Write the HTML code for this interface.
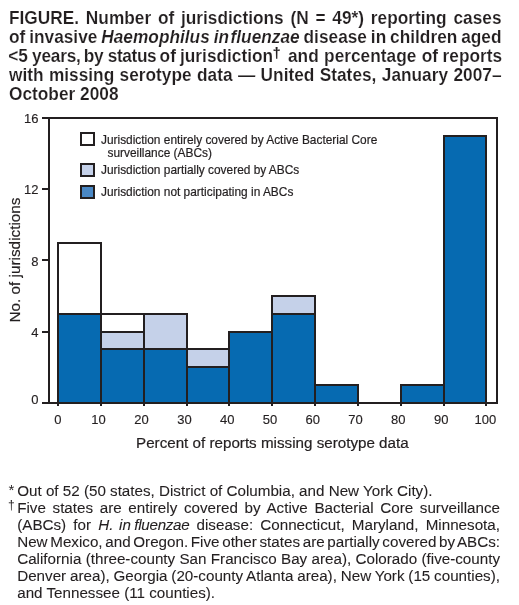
<!DOCTYPE html>
<html><head><meta charset="utf-8">
<style>
html,body{margin:0;padding:0;background:#fff;}
body{width:519px;height:605px;overflow:hidden;position:relative;font-family:"Liberation Sans",sans-serif;color:#231f20;}
.t{position:absolute;left:9px;width:492.5px;font-weight:bold;font-size:17.3px;line-height:17px;transform:scaleY(1.04);transform-origin:0 14.5px;-webkit-text-stroke:0.15px #fff;white-space:nowrap;text-align:justify;text-align-last:justify;}
.t.last{text-align:left;text-align-last:left;}
.w{position:absolute;top:0;}
.f{position:absolute;left:17.2px;width:482.8px;-webkit-text-stroke:0.1px #231f20;font-size:15.2px;line-height:17px;white-space:nowrap;text-align:justify;text-align-last:justify;}
.f.last{text-align:left;text-align-last:left;}
.m{position:absolute;font-size:15px;line-height:17px;}
svg{position:absolute;left:0;top:0;}
#w{position:absolute;left:0;top:0;width:519px;height:605px;will-change:transform;}
</style></head><body><div id="w">
<div class="t" style="top:10px">FIGURE. Number of jurisdictions (N = 49*) reporting cases</div>
<div class="t" style="top:29px;word-spacing:-1px">of invasive <i>Haemophilus <span style="margin-right:1.5px">in</span>fluenzae</i> disease in children aged</div>
<div class="t last" style="top:48px"><span class="w" style="left:-0.8px">&lt;5</span><span class="w" style="left:23.1px;letter-spacing:-0.25px">years,</span><span class="w" style="left:74.7px;letter-spacing:-0.3px">by</span><span class="w" style="left:98.8px;letter-spacing:-0.4px">status</span><span class="w" style="left:150.6px">of</span><span class="w" style="left:171.0px">jurisdiction<span style="font-size:14px;position:relative;top:-4px;margin-left:-0.5px;-webkit-text-stroke:0.2px #231f20">&#8224;</span></span><span class="w" style="left:279.0px">and</span><span class="w" style="left:315.1px">percentage</span><span class="w" style="left:412.8px">of</span><span class="w" style="left:433.6px">reports</span></div>
<div class="t" style="top:67px">with missing serotype data &#8212; United States, January 2007&#8211;</div>
<div class="t last" style="top:86px">October 2008</div>

<svg width="519" height="605" viewBox="0 0 519 605" font-family="Liberation Sans, sans-serif">
<g stroke="#231f20" stroke-width="2" fill="none">
<!-- bars -->
<rect x="58" y="314" width="43" height="89" fill="#066ab1"/>
<rect x="58" y="243" width="43" height="71" fill="#fff"/>
<rect x="101" y="349" width="43" height="54" fill="#066ab1"/>
<rect x="101" y="332" width="43" height="17" fill="#c5d1e9"/>
<rect x="101" y="314" width="43" height="18" fill="#fff"/>
<rect x="144" y="349" width="43" height="54" fill="#066ab1"/>
<rect x="144" y="314" width="43" height="35" fill="#c5d1e9"/>
<rect x="187" y="367" width="42" height="36" fill="#066ab1"/>
<rect x="187" y="349" width="42" height="18" fill="#c5d1e9"/>
<rect x="229" y="332" width="43" height="71" fill="#066ab1"/>
<rect x="272" y="314" width="43" height="89" fill="#066ab1"/>
<rect x="272" y="296" width="43" height="18" fill="#c5d1e9"/>
<rect x="315" y="385" width="43" height="18" fill="#066ab1"/>
<rect x="401" y="385" width="43" height="18" fill="#066ab1"/>
<rect x="444" y="136" width="42" height="267" fill="#066ab1"/>
<!-- frame -->
<path d="M49 118H497V403H49Z"/>
<!-- y ticks -->
<path d="M42 118H49M42 189H49M42 260H49M42 332H49M42 403H49"/>
<!-- x ticks -->
<path d="M58 403V406M101 403V406M144 403V406M187 403V406M229 403V406M272 403V406M315 403V406M358 403V406M401 403V406M444 403V406M486 403V406"/>
<!-- legend boxes -->
<rect x="81" y="133" width="13" height="12" fill="#fff"/>
<rect x="81" y="164" width="13" height="12" fill="#c5d1e9"/>
<rect x="81" y="186" width="13" height="12" fill="#4a88c5"/>
</g>
<g fill="#231f20" font-size="13" text-anchor="end" stroke="#231f20" stroke-width="0.15">
<text x="38.5" y="123">16</text>
<text x="38.5" y="194">12</text>
<text x="38.5" y="266">8</text>
<text x="38.5" y="337">4</text>
<text x="38.5" y="404">0</text>
</g>
<g fill="#231f20" font-size="13" text-anchor="middle" stroke="#231f20" stroke-width="0.15">
<text x="57.8" y="424">0</text>
<text x="98.4" y="424">10</text>
<text x="141.5" y="424">20</text>
<text x="184.6" y="424">30</text>
<text x="227.3" y="424">40</text>
<text x="270" y="424">50</text>
<text x="312.7" y="424">60</text>
<text x="355.5" y="424">70</text>
<text x="398.3" y="424">80</text>
<text x="441.3" y="424">90</text>
<text x="485.4" y="424">100</text>
</g>
<text x="136" y="448" font-size="15.2" fill="#231f20" stroke="#231f20" stroke-width="0.2">Percent of reports missing serotype data</text>
<text transform="translate(19.8,260) rotate(-90)" text-anchor="middle" font-size="15.3" fill="#231f20" stroke="#231f20" stroke-width="0.2">No. of jurisdictions</text>
<g fill="#231f20" font-size="11.9" stroke="#231f20" stroke-width="0.2">
<text x="101" y="144">Jurisdiction entirely covered by Active Bacterial Core</text>
<text x="107.5" y="156.5">surveillance (ABCs)</text>
<text x="101" y="174">Jurisdiction partially covered by ABCs</text>
<text x="101" y="196">Jurisdiction not participating in ABCs</text>
</g>
</svg>

<div class="m" style="left:8.5px;top:481px">*</div>
<div class="f last" style="top:482px">Out of 52 (50 states, District of Columbia, and New York City).</div>
<div class="m" style="left:8px;top:497px;font-size:12px">&#8224;</div>
<div class="f" style="top:499px">Five states are entirely covered by Active Bacterial Core surveillance</div>
<div class="f" style="top:516px">(ABCs) for <i>H. <span style="margin-left:-1.5px;margin-right:3.5px">in</span><span style="letter-spacing:-0.3px">fluenzae</span></i> disease: Connecticut, Maryland, Minnesota,</div>
<div class="f" style="top:533px;word-spacing:-2px">New Mexico, and Oregon. Five other states are partially covered by ABCs:</div>
<div class="f" style="top:550px;word-spacing:-1px">California (three-county San Francisco Bay area), Colorado (five-county</div>
<div class="f" style="top:567px;word-spacing:-1px">Denver area), Georgia (20-county Atlanta area), New York (15 counties),</div>
<div class="f last" style="top:584px">and Tennessee (11 counties).</div>
</div></body></html>
